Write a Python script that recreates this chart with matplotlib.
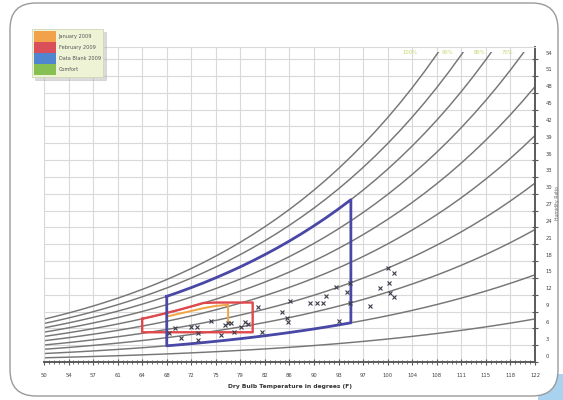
import numpy as np
import matplotlib
matplotlib.use("Agg")
import matplotlib.pyplot as plt
from matplotlib.patches import Patch, FancyBboxPatch, Rectangle
from matplotlib.transforms import IdentityTransform, ScaledTranslation

# ---------------- data ----------------
# saturation vapour pressure table (kPa), 10..50 degC in 1 degC steps
temps_c = list(range(10, 51))
p_sat_kpa = [1.2282, 1.3130, 1.4028, 1.4981, 1.5990, 1.7058, 1.8188, 1.9384,
             2.0647, 2.1983, 2.3392, 2.4878, 2.6452, 2.8096, 2.9856, 3.1699,
             3.3637, 3.5681, 3.7828, 4.0085, 4.2467, 4.4961, 4.7592, 5.0343,
             5.3247, 5.6290, 5.9479, 6.2824, 6.6331, 7.0005, 7.3851, 7.7878,
             8.2096, 8.6497, 9.1124, 9.5953, 10.0990, 10.6250, 11.1770,
             11.7520, 12.3520]
pressure_kpa = 101.325
rh_levels = [10, 20, 30, 40, 50, 60, 70, 80, 90, 100]
w_curve_top = 55.3

rh_labels = ["100%", "90%", "80%", "70%"]
rh_label_x = [103.7, 109.1, 113.9, 118.0]
rh_label_w = 55.2

x_tick_c = list(range(10, 51, 2))
y_ticks = list(range(0, 55, 3))

# comfort envelope (blue): 20-35 degC, 20-80 % RH
blue_t_range = (20, 35)
blue_rh_range = (20, 80)
# red zone: 18-27 degC, bottom w, top 60 % RH capped
red_t_range = (18, 27)
red_rh_top = 60
red_w_cap = 10.6
red_w_bottom = 5.3
# orange line
orange_t = [20, 21, 22, 23, 24, 25, 25]
orange_w = [8.1, 8.6, 9.1, 9.6, 10.0, 10.2, 7.0]

# measured points (degF, g/kg)
pts_f = [68.3, 69.2, 70.1, 71.6, 72.4, 72.6, 72.6, 74.5, 76.0, 76.5,
         77.0, 77.4, 77.9, 78.9, 79.5, 79.9, 82.0, 81.4, 84.9, 85.6,
         85.8, 86.1, 89.0, 90.0, 90.9, 91.3, 92.8, 94.4, 94.9, 94.9,
         93.3, 97.8, 99.3, 100.4, 101.3, 100.6, 100.7, 101.3]
pts_w = [5.2, 6.1, 4.3, 6.2, 6.2, 5.2, 3.9, 7.3, 4.8, 6.6,
         7.0, 7.0, 5.3, 6.2, 7.1, 6.8, 5.3, 9.8, 8.9, 7.8,
         7.1, 10.9, 10.5, 10.5, 10.5, 11.8, 13.4, 12.5, 14.1, 10.5,
         7.3, 10.0, 13.2, 16.8, 15.9, 14.1, 12.3, 11.6]

legend_labels = ["January 2009", "February 2009", "Data Blank 2009", "Comfort"]
legend_colors = ["#f2a24a", "#d9505a", "#4f86cf", "#86bf52"]

x_label = "Dry Bulb Temperature in degrees (F)"
y_label = "Humidity Ratio"

# ---------------- helpers ----------------
tc = np.array(temps_c, dtype=float)
ps = np.array(p_sat_kpa)
tf = 32 + 1.8 * tc


def hum_ratio(rh):
    pv = rh / 100.0 * ps
    return 622.0 * pv / (pressure_kpa - pv)


def c2f(c):
    return 32 + 1.8 * np.asarray(c, dtype=float)


# ---------------- figure ----------------
W, H = 563, 400
fig = plt.figure(figsize=(W / 100, H / 100), dpi=100)
fig.patch.set_facecolor("white")

# background decorations
fig.patches.append(Rectangle((538, 0), 25, 26, transform=IdentityTransform(),
                             facecolor="#a9d2f0", edgecolor="none", zorder=0))
fig.patches.append(FancyBboxPatch((10, 4), 548, 393,
                                  boxstyle="round,pad=0,rounding_size=26",
                                  transform=IdentityTransform(),
                                  facecolor="white", edgecolor="#9a9a9a",
                                  linewidth=1.0, zorder=1))

ax = fig.add_axes([44 / W, 1 - 362 / H, 491 / W, 315 / H])
ax.set_facecolor("none")
ax.set_zorder(2)

ax.set_xlim(50, 122)
ax.set_ylim(0, 56.15)

# grid
for c in x_tick_c:
    ax.axvline(c2f(c), color="#d9d9d9", lw=0.8, zorder=1)
for y in y_ticks:
    ax.axhline(y, color="#d9d9d9", lw=0.8, zorder=1)

# RH curves
clip = Rectangle((50, 0), 72, w_curve_top, transform=ax.transData)
for rh in rh_levels:
    ln, = ax.plot(tf, hum_ratio(rh), color="#767676", lw=1.05, zorder=2)
    ln.set_clip_path(clip)

for lab, x in zip(rh_labels, rh_label_x):
    ax.text(x, rh_label_w, lab, color="#c9d46a", fontsize=3.8,
            ha="center", va="center", zorder=3)

# orange line
ax.plot(c2f(orange_t), orange_w, color="#f0a444", lw=1.4, zorder=3)

# red zone
m = (tc >= red_t_range[0]) & (tc <= red_t_range[1])
top = np.minimum(hum_ratio(red_rh_top)[m], red_w_cap)
xr = np.concatenate([tf[m], tf[m][::-1], tf[m][:1]])
yr = np.concatenate([top, np.full(m.sum(), red_w_bottom), top[:1]])
ax.plot(xr, yr, color="#e0484c", lw=1.7, zorder=4)

# blue envelope
m = (tc >= blue_t_range[0]) & (tc <= blue_t_range[1])
top = hum_ratio(blue_rh_range[1])[m]
bot = hum_ratio(blue_rh_range[0])[m]
xb = np.concatenate([tf[m], tf[m][::-1], tf[m][:1]])
yb = np.concatenate([top, bot[::-1], top[:1]])
ax.plot(xb, yb, color="#4a48a6", lw=2.0, zorder=5)

# measured points
ax.plot(pts_f, pts_w, linestyle="none", marker="x", ms=2.2, mew=0.8,
        color="#3c3c4c", zorder=6)

# axes styling
for s in ["left", "top"]:
    ax.spines[s].set_color("#d9d9d9")
    ax.spines[s].set_linewidth(0.8)
for s in ["bottom", "right"]:
    ax.spines[s].set_color("#5a5a5a")
    ax.spines[s].set_linewidth(1.4)

ax.set_xticks(c2f(x_tick_c))
ax.set_xticklabels([str(int(round(v))) for v in c2f(x_tick_c)])
ax.set_xticks(c2f(np.arange(10, 50.01, 0.4)), minor=True)
ax.tick_params(axis="x", which="major", direction="inout", length=4,
               width=0.8, color="#5a5a5a", labelsize=3.8, pad=6,
               labelcolor="#444444")
ax.tick_params(axis="x", which="minor", direction="inout", length=2.5,
               width=0.6, color="#5a5a5a")

ax.yaxis.tick_right()
ax.set_yticks(y_ticks)
ax.set_yticklabels([str(v) for v in y_ticks])
ax.tick_params(axis="y", which="major", direction="inout", length=5,
               width=0.8, color="#5a5a5a", labelsize=3.8, pad=5,
               labelcolor="#444444", left=False)
off = ScaledTranslation(0, 0.065, fig.dpi_scale_trans)
for lbl in ax.yaxis.get_majorticklabels():
    lbl.set_transform(lbl.get_transform() + off)

ax.set_xlabel(x_label, fontsize=4.3, color="#333333", fontweight="bold",
              labelpad=4)
fig.text(557 / W, 1 - 203 / H, y_label, rotation=90, fontsize=3.3,
         color="#666666", ha="center", va="center", zorder=5)

# legend
handles = [Patch(facecolor=c, edgecolor="none") for c in legend_colors]
leg = ax.legend(handles, legend_labels, loc="upper left",
                bbox_to_anchor=(32 / W, 1 - 29 / H),
                bbox_transform=fig.transFigure, fontsize=3.6,
                handlelength=4.3, handleheight=3.0, labelspacing=0.0,
                handletextpad=0.6, borderpad=0.45, borderaxespad=0,
                frameon=True, fancybox=False,
                shadow={"color": "#b0b0b0", "alpha": 0.45})
leg.get_frame().set_facecolor("#eef3d6")
leg.get_frame().set_edgecolor("#d3d7b6")
leg.get_frame().set_linewidth(0.6)
for t in leg.get_texts():
    t.set_color("#555555")
leg.set_zorder(10)

fig.savefig("out.png", dpi=100)
